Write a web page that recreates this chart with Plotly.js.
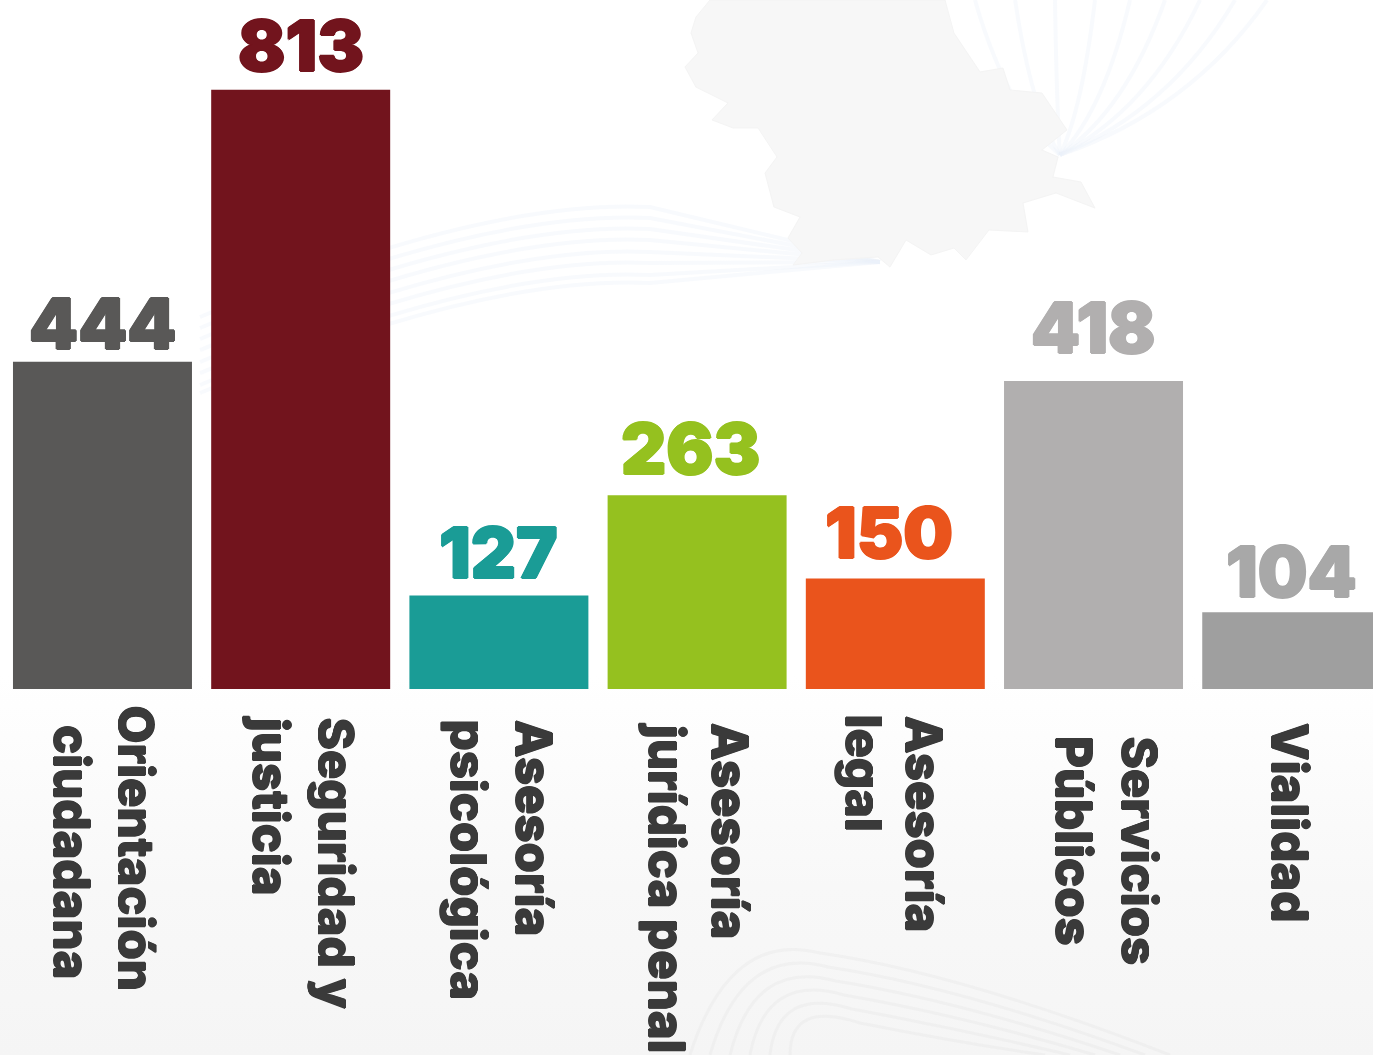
<!DOCTYPE html>
<html>
<head>
<meta charset="utf-8">
<script src="https://cdn.plot.ly/plotly-3.0.1.min.js"></script>
<style>
html,body{margin:0;padding:0;width:1373px;height:1055px;overflow:hidden;background:linear-gradient(180deg,#ffffff 0%,#ffffff 64%,#f8f8f8 84%,#f5f5f5 100%);}
#chart{width:1373px;height:1055px;}
</style>
</head>
<body>
<div id="chart"></div>
<script>
const categories = ["Orientación ciudadana","Seguridad y justicia","Asesoría psicológica","Asesoría jurídica penal","Asesoría legal","Servicios Públicos","Vialidad"];
const values = [444,813,127,263,150,418,104];
const labelLines = [["Orientación","ciudadana"],["Seguridad y","justicia"],["Asesoría","psicológica"],["Asesoría","jurídica penal"],["Asesoría","legal"],["Servicios","Públicos"],["Vialidad"]];
const barColors = ["#595857","#72141d","#1a9c96","#95c11f","#ea541c","#b1afaf","#9f9f9f"];
const numberColors = ["#595857","#72141d","#1a9c96","#95c11f","#ea541c","#b1afaf","#a8a8a8"];
const numberDx = [0,0,0,-7,-6,0,0];
const numberDy = [-6,0,-2,2,1,9,-4];
const lineCenterPx = [[135,71],[335,270],[533,467],[729,666],[923,862],[1138,1073],[1289]];
const lineStartPx = [[708,727],[720,718],[722,722],[725,725],[718,716],[738,738],[725]];
const mapOutline = [[710,0],[696,17],[691,33],[698,53],[685,67],[696,87],[728,103],[712,120],[733,128],[758,128],[777,157],[765,173],[774,207],[800,217],[788,238],[802,253],[793,265],[834,260],[878,257],[890,267],[906,240],[931,255],[954,248],[966,260],[989,230],[1028,232],[1023,203],[1056,193],[1095,208],[1081,182],[1053,177],[1058,157],[1042,150],[1067,130],[1042,93],[1010,90],[1003,68],[980,72],[954,33],[945,0]];
const W = 1373, H = 1055;
const BASELINE = 689, FIRST_CENTER = 102.5, STEP = 198.2;
const px = (x,y) => (x/W).toFixed(4)+" "+(1-y/H).toFixed(4);
const FONT = "Inter, Lato, sans-serif";
const halo = (c,r) => `${r}px 0 0 ${c}, -${r}px 0 0 ${c}, 0 ${r}px 0 ${c}, 0 -${r}px 0 ${c}`;

const shapes = [];
function wave(d,color,w){shapes.push({type:"path",xref:"paper",yref:"paper",layer:"below",line:{color:color,width:w},path:d});}
[975,1015,1055,1095,1130,1165,1200,1235,1267].forEach(x=>{
  wave("M"+px(1060,155)+" Q"+px(1060+(x-1060)*0.63,110)+" "+px(x,0),"rgba(236,240,248,0.35)",4);
});
[207,218,229,240,252,263,275,283].forEach(y=>{
  wave("M"+px(880,262)+" Q"+px(765,(262+y)/2)+" "+px(650,y)+" Q"+px(480,y-8)+" "+px(200,y+110),"rgba(236,240,248,0.35)",4);
});
[945,959,973,987,1001,1015].forEach((y,i)=>{
  wave("M"+px(690+i*20,1055)+" Q"+px(730+i*12,y-15)+" "+px(820+i*8,y+8)+" Q"+px(960,y+28)+" "+px(1170-i*25,1055),"rgba(232,232,232,0.45)",3);
});
shapes.push({type:"path",xref:"paper",yref:"paper",layer:"below",fillcolor:"#f7f7f7",line:{color:"#f4f4f4",width:1},
  path:"M"+mapOutline.map(p=>px(p[0],p[1])).join(" L")+" Z"});

const annotations = [];
values.forEach((v,i)=>{
  annotations.push({x:categories[i],y:v,xref:"x",yref:"y",text:String(v),showarrow:false,xanchor:"center",yanchor:"bottom",
    xshift:numberDx[i],yshift:numberDy[i],
    font:{family:FONT,size:70,weight:900,color:numberColors[i],shadow:halo(numberColors[i],1)}});
  labelLines[i].forEach((line,j)=>{
    annotations.push({x:categories[i],y:0,xref:"x",yref:"y",text:line,showarrow:false,textangle:90,xanchor:"center",yanchor:"top",
      xshift:lineCenterPx[i][j]-(FIRST_CENTER+STEP*i)+1,
      yshift:-(lineStartPx[i][j]-BASELINE-4),
      font:{family:FONT,size:49,weight:800,color:"#3a3a3a",shadow:halo("#3a3a3a",0.7)}});
  });
});

Plotly.newPlot("chart",[{
  type:"bar",x:categories,y:values,width:0.903,
  marker:{color:barColors,line:{width:0}},hoverinfo:"x+y"
}],{
  width:W,height:H,margin:{l:0,r:0,t:0,b:0},showlegend:false,
  paper_bgcolor:"rgba(0,0,0,0)",plot_bgcolor:"rgba(0,0,0,0)",
  xaxis:{type:"category",categoryorder:"array",categoryarray:categories,range:[-0.517,6.41],domain:[0,1],visible:false,fixedrange:true},
  yaxis:{range:[-496.6,934.9],domain:[0,1],visible:false,fixedrange:true},
  shapes:shapes,annotations:annotations
},{displayModeBar:false});
</script>
</body>
</html>
